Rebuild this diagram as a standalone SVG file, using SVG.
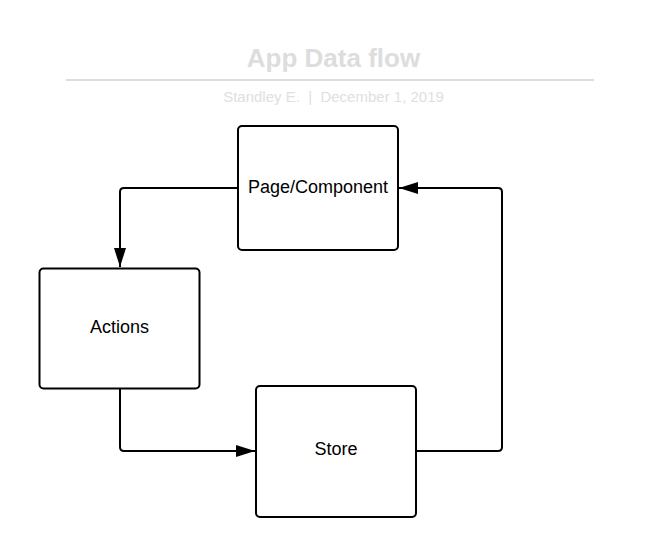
<svg xmlns="http://www.w3.org/2000/svg" width="661" height="558" viewBox="0 0 661 558">
<style>
.node rect{fill:#fff;stroke:#000;stroke-width:2}
.node text{font-family:"Liberation Sans",Arial,sans-serif;font-size:18px;fill:#000;text-anchor:middle}
.conn path{fill:none;stroke:#000;stroke-width:2;stroke-linejoin:round}
</style>
<defs>
<marker id="arr" markerWidth="20" markerHeight="12" refX="19" refY="6" orient="auto" markerUnits="userSpaceOnUse">
<path d="M0,0 L19,6 L0,12 Z" fill="#000"/>
</marker>
</defs>
<rect width="661" height="558" fill="#fff"/>
<g id="title">
<text x="333.5" y="67" font-family="Liberation Sans,Arial,sans-serif" font-weight="bold" font-size="26" fill="#dddddd" text-anchor="middle">App Data flow</text>
<line x1="66" y1="80" x2="594" y2="80" stroke="#dddddd" stroke-width="2"/>
<text x="333.5" y="102" font-family="Liberation Sans,Arial,sans-serif" font-size="15" fill="#e0e0e0" text-anchor="middle" xml:space="preserve">Standley E.  |  December 1, 2019</text>
</g>
<g id="connectors" class="conn">
<path d="M238,188 H124 Q120,188 120,192 V267" marker-end="url(#arr)"/>
<path d="M120,389 V447 Q120,451 124,451 H255" marker-end="url(#arr)"/>
<path d="M416,451 H498 Q502,451 502,447 V192 Q502,188 498,188 H399" marker-end="url(#arr)"/>
</g>
<g id="node-page" class="node">
<rect x="238" y="126" width="160" height="124" rx="4"/>
<text x="318" y="193">Page/Component</text>
</g>
<g id="node-actions" class="node">
<rect x="39.5" y="268.5" width="160" height="120" rx="4"/>
<text x="119.5" y="333">Actions</text>
</g>
<g id="node-store" class="node">
<rect x="256" y="386" width="160" height="131" rx="4"/>
<text x="336" y="455">Store</text>
</g>
</svg>
